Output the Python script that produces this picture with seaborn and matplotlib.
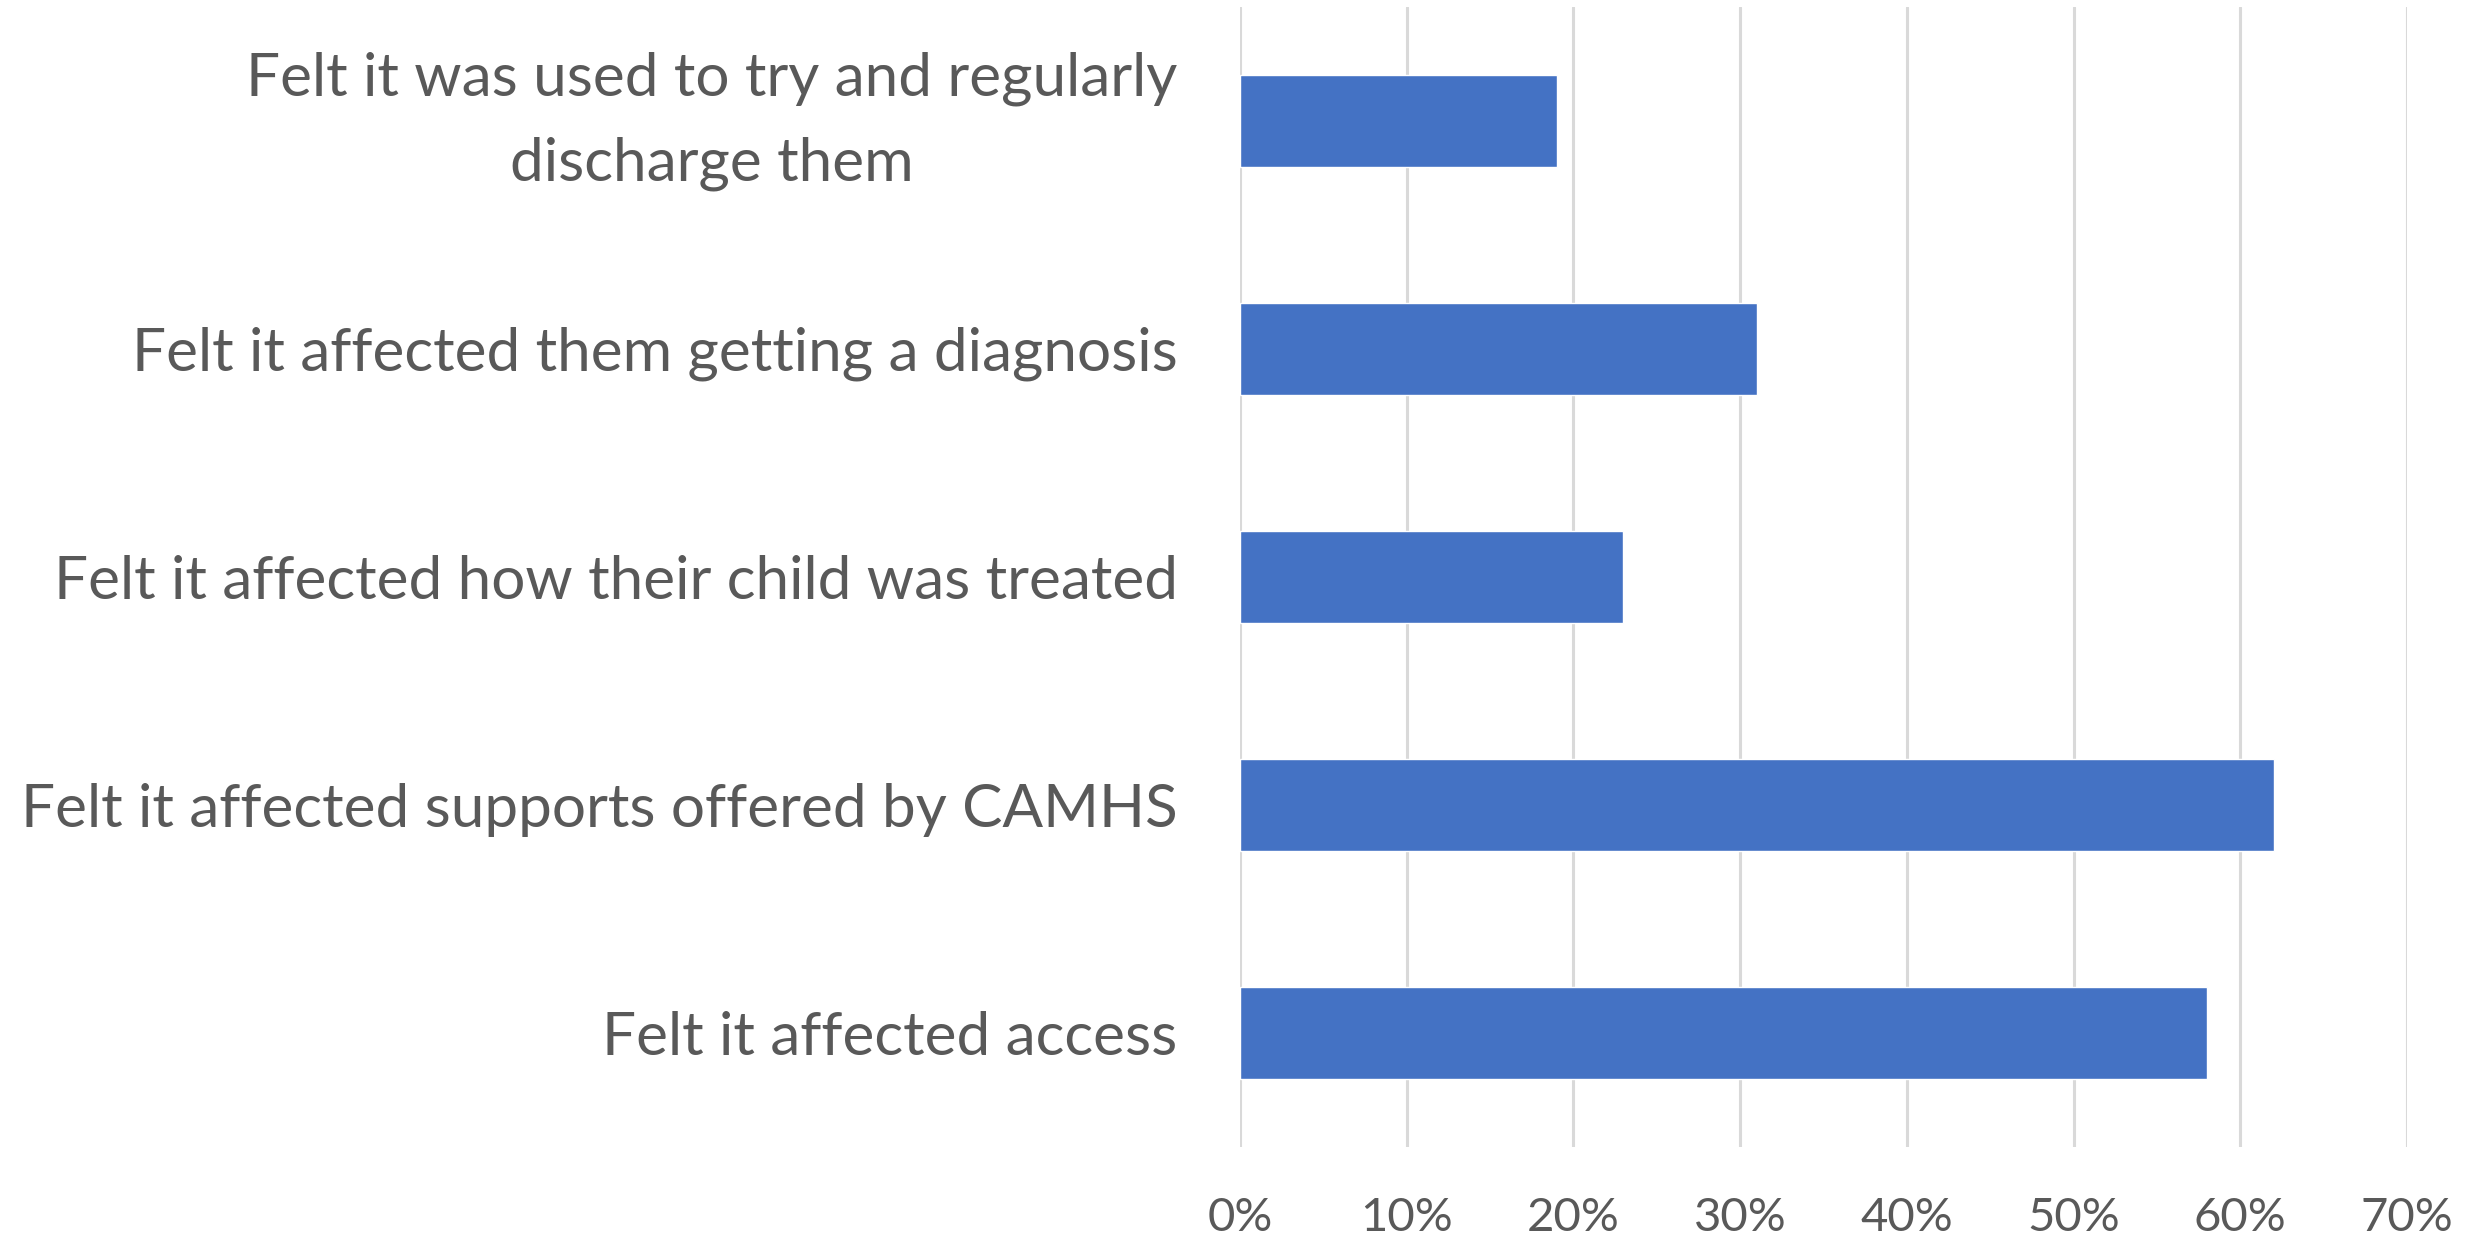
import matplotlib
matplotlib.use("Agg")
import matplotlib.pyplot as plt
import seaborn as sns
import pandas as pd
from matplotlib.ticker import FuncFormatter, MultipleLocator

categories = [
    "Felt it was used to try and regularly\ndischarge them",
    "Felt it affected them getting a diagnosis",
    "Felt it affected how their child was treated",
    "Felt it affected supports offered by CAMHS",
    "Felt it affected access",
]
percentages = [0.19, 0.31, 0.23, 0.62, 0.58]

df = pd.DataFrame({"category": categories, "share": percentages})

sns.set_theme(style="white")
plt.rcParams["font.family"] = ["Lato", "DejaVu Sans"]

text_color = "#595959"
bar_color = "#4472C4"
grid_color = "#D9D9D9"

fig = plt.figure(figsize=(24.83, 12.39), dpi=100)
ax = fig.add_axes([0.4994, 0.0743, 0.9694 - 0.4994, 0.9944 - 0.0743])

sns.barplot(data=df, x="share", y="category", orient="h", color=bar_color,
            saturation=1, width=0.4, ax=ax, zorder=3)

ax.set_xlim(0, 0.70)
ax.xaxis.set_major_locator(MultipleLocator(0.10))
ax.xaxis.set_major_formatter(FuncFormatter(lambda v, _: f"{v*100:.0f}%"))
ax.grid(axis="x", color=grid_color, linewidth=2.2, zorder=0)
ax.grid(axis="y", visible=False)
for s in ax.spines.values():
    s.set_visible(False)

ax.set_xlabel("")
ax.set_ylabel("")
ax.tick_params(axis="x", length=0, pad=36, labelsize=34, labelcolor=text_color)
ax.tick_params(axis="y", length=0, pad=45, labelsize=43.4, labelcolor=text_color)
for lbl in ax.get_yticklabels():
    if "\n" in lbl.get_text():
        lbl.set_multialignment("center")
        lbl.set_linespacing(1.7)
        lbl.set_verticalalignment("center")

fig.savefig("out.png", dpi=100, facecolor="white")
